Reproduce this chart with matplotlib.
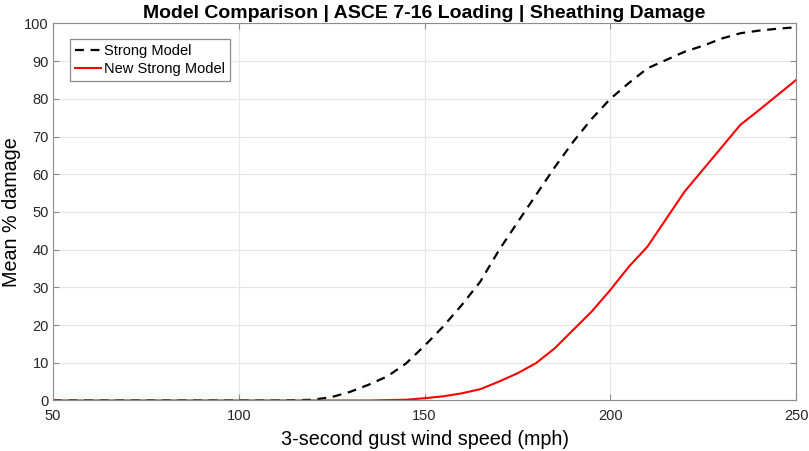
import matplotlib

matplotlib.use("Agg")
import matplotlib.pyplot as plt

plt.rcParams["font.family"] = ["Liberation Sans", "DejaVu Sans"]

# wind speed (mph)
speed = list(range(50, 255, 5))

# mean % damage
strong = [0, 0, 0, 0, 0, 0, 0, 0, 0, 0, 0, 0, 0, 0.05,
          0.2, 0.9, 2.3, 4.2, 6.4, 9.8, 14.5, 19.6, 25.3, 31.5,
          39.8, 47.2, 54.5, 61.8, 68.6, 74.7, 80.0, 84.2, 88.1, 90.3,
          92.5, 94.1, 96.0, 97.4, 98.1, 98.6, 99.0]
new_strong = [0, 0, 0, 0, 0, 0, 0, 0, 0, 0, 0, 0, 0, 0,
              0, 0, 0, 0, 0.1, 0.2, 0.6, 1.1, 1.9, 3.0,
              5.0, 7.2, 9.9, 13.8, 18.7, 23.6, 29.3, 35.5, 40.8, 48.1,
              55.4, 61.3, 67.2, 73.1, 77.0, 81.0, 85.0]

fig = plt.figure(figsize=(8.09, 4.51), dpi=100)
ax = fig.add_axes([0.0655, 0.112, 0.9185, 0.836])

ax.plot(speed, strong, color="black", linestyle=(0, (4, 3)), linewidth=1.6,
        label="Strong Model")
ax.plot(speed, new_strong, color="red", linewidth=1.5, label="New Strong Model")

ax.set_xlim(50, 250)
ax.set_ylim(0, 100)
ax.set_xticks(range(50, 251, 50))
ax.set_yticks(range(0, 101, 10))
ax.grid(True, color="#e6e6e6", linewidth=0.8)
ax.set_axisbelow(True)

for side in ax.spines.values():
    side.set_color("#8c8c8c")
ax.tick_params(direction="in", length=4, color="#8c8c8c", labelcolor="#262626",
               labelsize=10.5, top=True, right=True)
ax.tick_params(axis="x", pad=6)
ax.tick_params(axis="y", pad=3)

ax.set_title("Model Comparison | ASCE 7-16 Loading | Sheathing Damage",
             fontsize=14, fontweight="bold", pad=4)
ax.set_xlabel("3-second gust wind speed (mph)", fontsize=14.2, labelpad=5)
ax.set_ylabel("Mean % damage", fontsize=14.2, labelpad=2)

leg = ax.legend(loc="upper left", bbox_to_anchor=(0.023, 0.959), fontsize=10.5,
                fancybox=False, framealpha=1, edgecolor="#8c8c8c",
                handlelength=1.75, handletextpad=0.2, borderpad=0.35,
                labelspacing=0.25, borderaxespad=0)
leg.get_frame().set_linewidth(0.9)

fig.savefig("out.png", dpi=100)
